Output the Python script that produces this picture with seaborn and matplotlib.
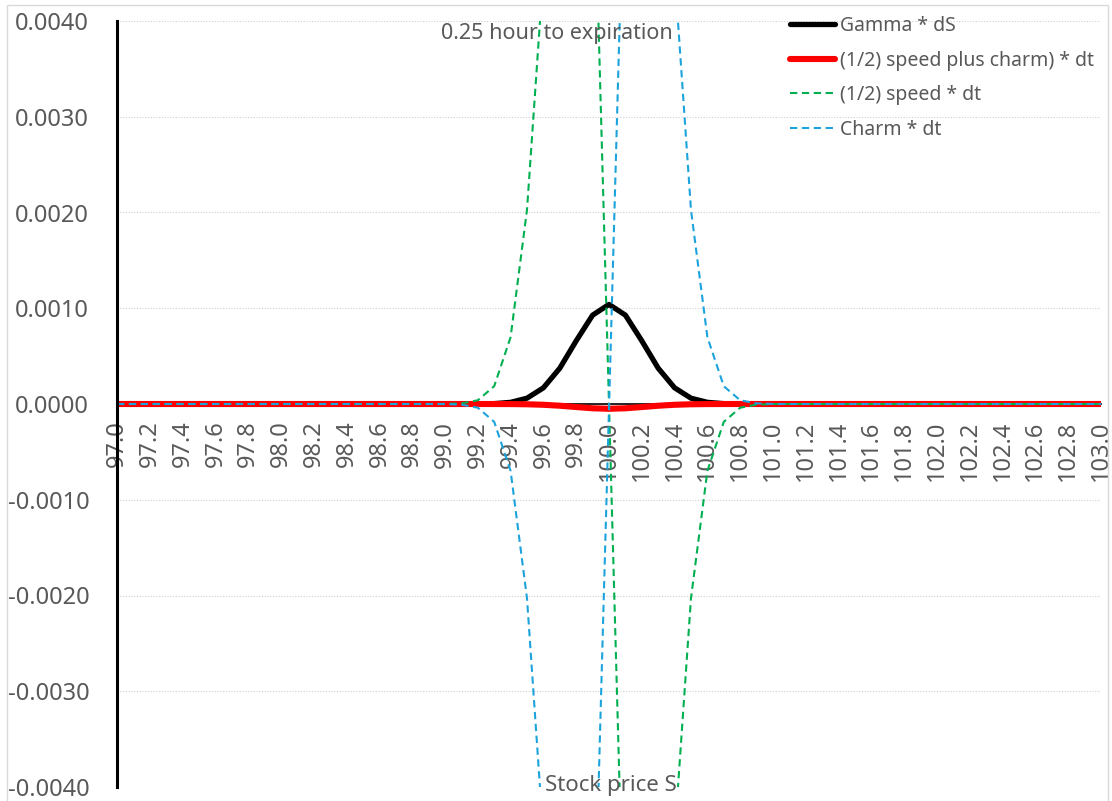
import numpy as np
import pandas as pd
import matplotlib
matplotlib.use("Agg")
import matplotlib.pyplot as plt
import matplotlib.patches as mpatches
import seaborn as sns

# Stock price grid (category axis), 97.0 .. 103.0 in steps of 0.1
prices = np.round(np.arange(970, 1031) / 10.0, 1)

# Gamma * dS
gamma_ds = [
    0, 0, 0, 0, 0, 0, 0, 0, 0, 0,
    0, 0, 0, 0, 0, 0, 0, 0, 0, 0,
    0.0, 0.0000001, 0.0000007, 0.0000040, 0.0000174, 0.0000607, 0.000169, 0.000374, 0.000660, 0.000928,
    0.001040,
    0.000928, 0.000660, 0.000374, 0.000169, 0.0000607, 0.0000174, 0.0000040, 0.0000007, 0.0000001, 0.0,
    0, 0, 0, 0, 0, 0, 0, 0, 0, 0,
    0, 0, 0, 0, 0, 0, 0, 0, 0, 0,
]

# (1/2) speed plus charm) * dt
half_speed_plus_charm_dt = [
    0, 0, 0, 0, 0, 0, 0, 0, 0, 0,
    0, 0, 0, 0, 0, 0, 0, 0, 0, 0,
    0.0, 0.0, 0.0, -0.0000002, -0.0000008, -0.0000029, -0.0000081, -0.0000180, -0.0000317, -0.0000446,
    -0.0000500,
    -0.0000446, -0.0000317, -0.0000180, -0.0000081, -0.0000029, -0.0000008, -0.0000002, 0.0, 0.0, 0.0,
    0, 0, 0, 0, 0, 0, 0, 0, 0, 0,
    0, 0, 0, 0, 0, 0, 0, 0, 0, 0,
]

# (1/2) speed * dt
half_speed_dt = [
    0, 0, 0, 0, 0, 0, 0, 0, 0, 0,
    0, 0, 0, 0, 0, 0, 0, 0, 0, 0,
    0.0000008, 0.0000063, 0.0000386, 0.000186, 0.000698, 0.002028, 0.004512, 0.007498, 0.008824, 0.006200,
    0.0,
    -0.006200, -0.008824, -0.007498, -0.004512, -0.002028, -0.000698, -0.000186, -0.0000386, -0.0000063, -0.0000008,
    0, 0, 0, 0, 0, 0, 0, 0, 0, 0,
    0, 0, 0, 0, 0, 0, 0, 0, 0, 0,
]

# Charm * dt
charm_dt = [
    0, 0, 0, 0, 0, 0, 0, 0, 0, 0,
    0, 0, 0, 0, 0, 0, 0, 0, 0, 0,
    -0.0000008, -0.0000063, -0.0000386, -0.0001862, -0.0006988, -0.0020309, -0.0045201, -0.0075160, -0.0088557, -0.0062446,
    -0.0000500,
    0.0061554, 0.0087923, 0.0074800, 0.0045039, 0.0020251, 0.0006972, 0.0001858, 0.0000386, 0.0000063, 0.0000008,
    0, 0, 0, 0, 0, 0, 0, 0, 0, 0,
    0, 0, 0, 0, 0, 0, 0, 0, 0, 0,
]

series_labels = [
    "Gamma * dS",
    "(1/2) speed plus charm) * dt",
    "(1/2) speed * dt",
    "Charm * dt",
]
y_ticks = [-0.004, -0.003, -0.002, -0.001, 0.0, 0.001, 0.002, 0.003, 0.004]
y_tick_labels = ["-0.0040", "-0.0030", "-0.0020", "-0.0010", "0.0000",
                 "0.0010", "0.0020", "0.0030", "0.0040"]
x_tick_values = prices[::2]
x_tick_labels = [f"{p:.1f}" for p in x_tick_values]

title_text = "0.25 hour to expiration"
x_title = "Stock price S"

sns.set_style("white")
plt.rcParams["font.family"] = ["Noto Sans", "DejaVu Sans"]

TXT = "#595959"
W, H = 1112, 801
fig = plt.figure(figsize=(W / 100, H / 100), dpi=100)
ax = fig.add_axes([117 / W, 1 - 787 / H, (1101 - 117) / W, (787 - 21) / H])

# chart-area outline
fig.patches.append(mpatches.Rectangle((7 / W, -0.02), (1108 - 7) / W, 1 - 5 / H + 0.02,
                                      transform=fig.transFigure, fill=False,
                                      edgecolor="#d9d9d9", lw=1.0))

df = pd.DataFrame({
    "price": prices,
    "gamma": gamma_ds,
    "sum": half_speed_plus_charm_dt,
    "speed": half_speed_dt,
    "charm": charm_dt,
})

sns.lineplot(data=df, x="price", y="gamma", ax=ax, color="black", lw=3.8,
             solid_capstyle="round", solid_joinstyle="round", label=series_labels[0])
sns.lineplot(data=df, x="price", y="sum", ax=ax, color="#ff0000", lw=4.4,
             solid_capstyle="round", solid_joinstyle="round", label=series_labels[1])
sns.lineplot(data=df, x="price", y="speed", ax=ax, color="#00b050", lw=1.5,
             label=series_labels[2]).lines[-1].set_dashes((3.5, 2.2))
sns.lineplot(data=df, x="price", y="charm", ax=ax, color="#1ca3dc", lw=1.5,
             label=series_labels[3]).lines[-1].set_dashes((3.5, 2.2))

ax.set_xlim(97.0, 103.0)
ax.set_ylim(-0.004, 0.004)
ax.set_xlabel("")
ax.set_ylabel("")

# horizontal dotted gridlines
for v in y_ticks:
    ax.axhline(v, color="#d0d0d0", lw=0.8, ls=(0, (1, 1.5)), zorder=0)

ax.set_yticks(y_ticks)
ax.set_yticklabels(y_tick_labels)
ax.set_xticks(x_tick_values)
ax.set_xticklabels(x_tick_labels)
ax.tick_params(axis="y", length=0, pad=20, labelsize=17, labelcolor=TXT)
ax.tick_params(axis="x", length=0, pad=12, labelsize=17, labelcolor=TXT,
               labelrotation=90)

for s in ["top", "right"]:
    ax.spines[s].set_visible(False)
ax.spines["left"].set_color("black")
ax.spines["left"].set_linewidth(2.2)
ax.spines["bottom"].set_position(("data", 0))
ax.spines["bottom"].set_color("black")
ax.spines["bottom"].set_linewidth(1.2)
ax.spines["bottom"].set_zorder(0.5)

leg = ax.legend(loc="upper left", bbox_to_anchor=(790 / W, 1 - 16 / H),
                bbox_transform=fig.transFigure, frameon=False, fontsize=14,
                handlelength=2.3, handletextpad=0.25, labelspacing=0.75,
                borderpad=0, borderaxespad=0)
for t in leg.get_texts():
    t.set_color(TXT)

fig.text(557 / W, 1 - 34 / H, title_text, ha="center", va="center",
         fontsize=15.5, color=TXT)
fig.text(611 / W, 1 - 786 / H, x_title, ha="center", va="center",
         fontsize=16, color=TXT)

fig.savefig("out.png", dpi=100)
